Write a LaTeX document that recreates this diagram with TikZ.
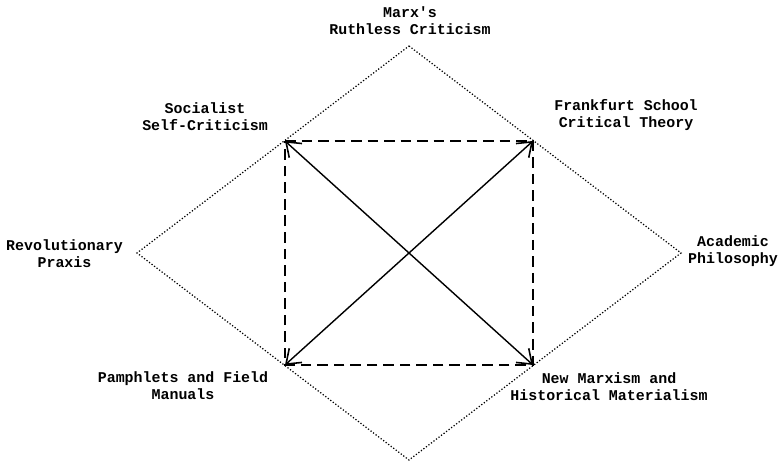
\documentclass[tikz,border=0pt]{standalone}
\usepackage{fontspec}
\setmonofont{Liberation Mono}
\usetikzlibrary{arrows.meta}
\begin{document}
\begin{tikzpicture}[scale=1, line width=0.8pt]
  \tikzset{lbl/.style={font=\ttfamily\bfseries\fontsize{8.5}{9.7}\selectfont, align=center, inner sep=0pt},
    barb/.style={{Straight Barb[length=2.6mm,width=3.8mm,line width=0.9pt]}-{Straight Barb[length=2.6mm,width=3.8mm,line width=0.9pt]}}}
  \useasboundingbox (0,0) rectangle (15.62,9.28);
  \coordinate (T) at (8.18,8.36); \coordinate (L) at (2.74,4.22); \coordinate (R) at (13.62,4.22); \coordinate (Bt) at (8.18,0.08);
  \coordinate (SL) at (5.70,6.46); \coordinate (SR) at (10.66,6.46); \coordinate (PL) at (5.70,1.98); \coordinate (PR) at (10.66,1.98);
  % 바깥 마름모(점선)
  \draw[dash pattern=on 0.7pt off 1.1pt, line width=0.7pt] (T) -- (R) -- (Bt) -- (L) -- cycle;
  % 안쪽 사각형(파선)
  \draw[dash pattern=on 6pt off 3.4pt] (SL) -- (SR) -- (PR) -- (PL) -- cycle;
  % 대각선 화살표
  \draw[barb] (PL) -- (SR);
  \draw[barb] (SL) -- (PR);
  % 이름표
  \node[lbl] (marx) at (8.20,8.87) {Marx's\\Ruthless Criticism};
  \node[lbl] (soc) at (4.10,6.95) {Socialist\\Self-Criticism};
  \node[lbl] (frank) at (12.52,6.98) {Frankfurt School\\Critical Theory};
  \node[lbl] (rev) at (1.29,4.21) {Revolutionary\\Praxis};
  \node[lbl] (acad) at (14.66,4.26) {Academic\\Philosophy};
  \node[lbl] (pamph) at (3.66,1.57) {Pamphlets and Field\\Manuals};
  \node[lbl] (newm) at (12.18,1.55) {New Marxism and\\Historical Materialism};
\end{tikzpicture}
\end{document}
